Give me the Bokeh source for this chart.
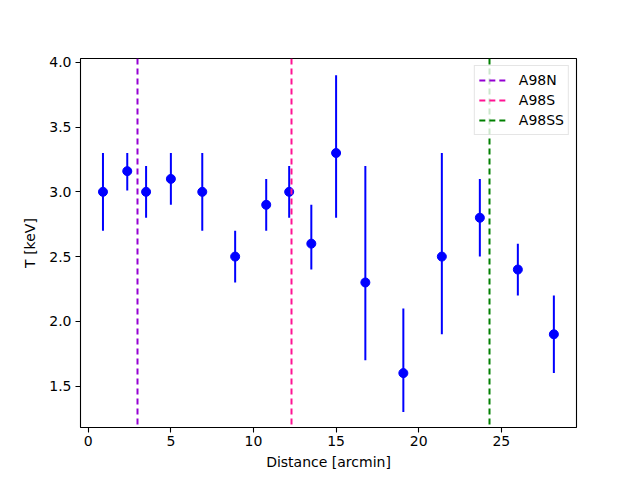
from bokeh.plotting import figure
from bokeh.models import FixedTicker, PrintfTickFormatter, Range1d
from bokeh.embed import file_html
from bokeh.resources import INLINE

# Data
distance = [0.89, 2.36, 3.5, 5.0, 6.9, 8.89, 10.77, 12.16, 13.5, 15.0,
            16.77, 19.07, 21.4, 23.7, 26.0, 28.18]
temp = [3.0, 3.16, 3.0, 3.1, 3.0, 2.5, 2.9, 3.0, 2.6, 3.3,
        2.3, 1.6, 2.5, 2.8, 2.4, 1.9]
temp_low = [2.7, 3.01, 2.8, 2.9, 2.7, 2.3, 2.7, 2.8, 2.4, 2.8,
            1.7, 1.3, 1.9, 2.5, 2.2, 1.6]
temp_high = [3.3, 3.3, 3.2, 3.3, 3.3, 2.7, 3.1, 3.2, 2.9, 3.9,
             3.2, 2.1, 3.3, 3.1, 2.6, 2.2]

line_names = ["A98N", "A98S", "A98SS"]
line_pos = [2.95, 12.28, 24.29]
line_colors = ["#9400D3", "#FF1493", "#008000"]

x_ticks = [0, 5, 10, 15, 20, 25]
y_ticks = [1.5, 2.0, 2.5, 3.0, 3.5, 4.0]

FONT = "DejaVu Sans"

p = figure(width=640, height=480, output_backend="svg", toolbar_location=None,
           x_range=Range1d(-0.47, 29.55), y_range=Range1d(1.18, 4.03))
p.min_border_left = 80
p.min_border_top = 58
p.min_border_right = 64
p.min_border_bottom = 53

p.xgrid.visible = False
p.ygrid.visible = False
p.outline_line_color = "black"
p.outline_line_width = 1.1

for ax in (p.xaxis, p.yaxis):
    ax.major_tick_in = 0
    ax.major_tick_out = 5
    ax.minor_tick_line_color = None
    ax.major_label_text_font = FONT
    ax.major_label_text_font_size = "14px"
    ax.major_label_text_color = "black"
    ax.axis_label_text_font = FONT
    ax.axis_label_text_font_size = "14px"
    ax.axis_label_text_font_style = "normal"
    ax.axis_label_text_color = "black"
    ax.axis_line_color = None
    ax.major_tick_line_color = "black"
    ax.major_tick_line_width = 1.1

p.xaxis.ticker = FixedTicker(ticks=x_ticks)
p.yaxis.ticker = FixedTicker(ticks=y_ticks)
p.yaxis.formatter = PrintfTickFormatter(format="%.1f")
p.xaxis.axis_label = "Distance [arcmin]"
p.yaxis.axis_label = "T [keV]"
p.xaxis.axis_label_standoff = 5
p.yaxis.axis_label_standoff = 8
p.xaxis.major_label_standoff = 3
p.yaxis.major_label_standoff = 4

p.segment(x0=distance, y0=temp_low, x1=distance, y1=temp_high,
          line_color="blue", line_width=2)
p.scatter(x=distance, y=temp, size=9, color="blue")

for name, pos, col in zip(line_names, line_pos, line_colors):
    p.vspan(x=[pos], line_color=col, line_width=2, line_dash="6 4",
            legend_label=name)

lg = p.legend[0]
lg.location = "top_right"
lg.margin = 7
lg.padding = 4
lg.spacing = 0
lg.glyph_width = 28
lg.glyph_height = 20
lg.label_height = 20
lg.label_text_font = FONT
lg.label_text_font_size = "14px"
lg.label_text_color = "black"
lg.label_standoff = 12
lg.border_line_color = "#cccccc"
lg.border_line_width = 1
lg.background_fill_alpha = 0.8

open("out.html", "w").write(file_html(p, INLINE))
